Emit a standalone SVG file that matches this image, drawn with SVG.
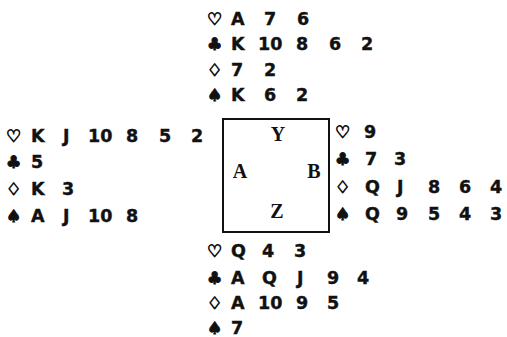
<svg xmlns="http://www.w3.org/2000/svg" width="507" height="337" viewBox="0 0 507 337">
<style>
.c{font-family:"DejaVu Sans",sans-serif;font-weight:bold;font-size:17.5px;fill:#111;stroke:#111;stroke-width:0.4}
.s{font-family:"DejaVu Sans",sans-serif;font-size:17px;fill:#111;stroke:#111;stroke-width:1}
.l{font-family:"Liberation Serif","DejaVu Serif",serif;font-weight:bold;font-size:20px;fill:#111;text-anchor:middle}
</style>
<rect width="507" height="337" fill="#fff"/>
<g id="north">
<text class="s" x="207" y="25">♡</text><text class="c" y="25"><tspan x="231">A</tspan><tspan x="264">7</tspan><tspan x="297">6</tspan></text>
<text class="s" x="207" y="50">♣</text><text class="c" y="50"><tspan x="231">K</tspan><tspan x="258">10</tspan><tspan x="296">8</tspan><tspan x="329">6</tspan><tspan x="361">2</tspan></text>
<text class="s" x="207" y="76">♢</text><text class="c" y="76"><tspan x="231">7</tspan><tspan x="264">2</tspan></text>
<text class="s" x="207" y="101">♠</text><text class="c" y="101"><tspan x="231">K</tspan><tspan x="264">6</tspan><tspan x="296">2</tspan></text>
</g>
<g id="west">
<text class="s" x="6" y="142">♡</text><text class="c" y="142"><tspan x="31">K</tspan><tspan x="63">J</tspan><tspan x="88">10</tspan><tspan x="126">8</tspan><tspan x="159">5</tspan><tspan x="191">2</tspan></text>
<text class="s" x="6" y="168">♣</text><text class="c" y="168"><tspan x="31">5</tspan></text>
<text class="s" x="6" y="195">♢</text><text class="c" y="195"><tspan x="31">K</tspan><tspan x="62">3</tspan></text>
<text class="s" x="6" y="222">♠</text><text class="c" y="222"><tspan x="31">A</tspan><tspan x="63">J</tspan><tspan x="88">10</tspan><tspan x="126">8</tspan></text>
</g>
<g id="east">
<text class="s" x="335" y="138">♡</text><text class="c" y="138"><tspan x="364">9</tspan></text>
<text class="s" x="335" y="165">♣</text><text class="c" y="165"><tspan x="365">7</tspan><tspan x="394">3</tspan></text>
<text class="s" x="335" y="193">♢</text><text class="c" y="193"><tspan x="365">Q</tspan><tspan x="397">J</tspan><tspan x="428">8</tspan><tspan x="459">6</tspan><tspan x="490">4</tspan></text>
<text class="s" x="335" y="220">♠</text><text class="c" y="220"><tspan x="365">Q</tspan><tspan x="396">9</tspan><tspan x="428">5</tspan><tspan x="459">4</tspan><tspan x="490">3</tspan></text>
</g>
<g id="south">
<text class="s" x="207" y="257">♡</text><text class="c" y="257"><tspan x="231">Q</tspan><tspan x="262">4</tspan><tspan x="294">3</tspan></text>
<text class="s" x="207" y="284">♣</text><text class="c" y="284"><tspan x="231">A</tspan><tspan x="262">Q</tspan><tspan x="297">J</tspan><tspan x="327">9</tspan><tspan x="357">4</tspan></text>
<text class="s" x="207" y="309">♢</text><text class="c" y="309"><tspan x="231">A</tspan><tspan x="258">10</tspan><tspan x="296">9</tspan><tspan x="327">5</tspan></text>
<text class="s" x="207" y="334">♠</text><text class="c" y="334"><tspan x="231">7</tspan></text>
</g>
<g id="table">
<rect x="223" y="119" width="106" height="113" fill="none" stroke="#111" stroke-width="2"/>
<text class="l" x="278" y="141">Y</text>
<text class="l" x="240" y="178">A</text>
<text class="l" x="314" y="178">B</text>
<text class="l" x="277" y="218">Z</text>
</g>
<g id="connectors"/>
</svg>
